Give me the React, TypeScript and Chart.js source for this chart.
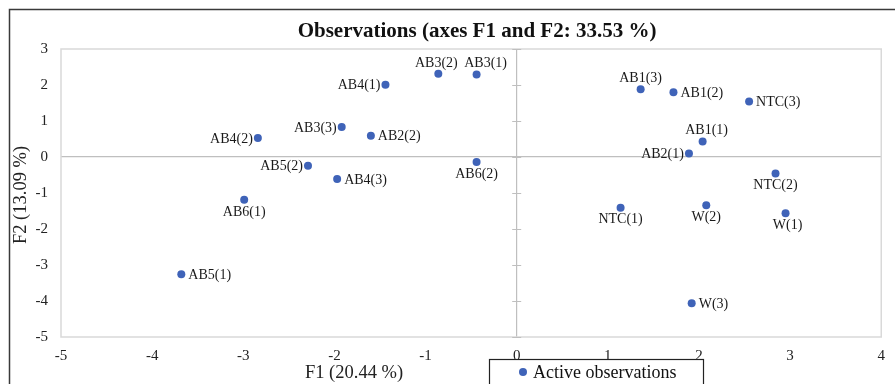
import React, { useEffect, useRef } from "react";
import { Chart, registerables } from "chart.js";

Chart.register(...registerables);

// ---- Data ----
const obsLabels = [
  "AB1(1)", "AB1(2)", "AB1(3)", "AB2(1)", "AB2(2)", "AB3(1)", "AB3(2)",
  "AB3(3)", "AB4(1)", "AB4(2)", "AB4(3)", "AB5(1)", "AB5(2)", "AB6(1)",
  "AB6(2)", "NTC(1)", "NTC(2)", "NTC(3)", "W(1)", "W(2)", "W(3)",
];
const f1Values = [
  2.04, 1.72, 1.36, 1.89, -1.6, -0.44, -0.86,
  -1.92, -1.44, -2.84, -1.97, -3.68, -2.29, -2.99,
  -0.44, 1.14, 2.84, 2.55, 2.95, 2.08, 1.92,
];
const f2Values = [
  0.43, 1.8, 1.88, 0.1, 0.59, 2.29, 2.31,
  0.83, 2.01, 0.53, -0.61, -3.26, -0.24, -1.19,
  -0.14, -1.41, -0.46, 1.54, -1.56, -1.34, -4.06,
];
const xTicks = [-5, -4, -3, -2, -1, 0, 1, 2, 3, 4];
const yTicks = [-5, -4, -3, -2, -1, 0, 1, 2, 3];

const chartTitle = "Observations (axes F1 and F2: 33.53 %)";
const xTitle = "F1 (20.44 %)";
const yTitle = "F2 (13.09 %)";
const seriesName = "Active observations";

// label placement (style only): [direction, extra horizontal shift]
const labelPlacement: Record<string, [string, number]> = {
  "AB1(1)": ["above", 4], "AB1(2)": ["right", 0], "AB1(3)": ["above", 0], "AB2(1)": ["left", 0],
  "AB2(2)": ["right", 0], "AB3(1)": ["above", 9], "AB3(2)": ["above", -2], "AB3(3)": ["left", 0],
  "AB4(1)": ["left", 0], "AB4(2)": ["left", 0], "AB4(3)": ["right", 0], "AB5(1)": ["right", 0],
  "AB5(2)": ["left", 0], "AB6(1)": ["below", 0], "AB6(2)": ["below", 0], "NTC(1)": ["below", 0],
  "NTC(2)": ["below", 0], "NTC(3)": ["right", 0], "W(1)": ["below", 2], "W(2)": ["below", 0],
  "W(3)": ["right", 0],
};

const SERIF = "'Liberation Serif', 'Times New Roman', serif";
const DOT = "#3f63b8";

const decorPlugin = {
  id: "decor",
  beforeDatasetsDraw(chart: any) {
    const { ctx, chartArea } = chart;
    const xs = chart.scales.x;
    const ys = chart.scales.y;
    ctx.save();
    // plot border
    ctx.strokeStyle = "#d9d9d9";
    ctx.lineWidth = 1.5;
    ctx.strokeRect(chartArea.left, chartArea.top, chartArea.right - chartArea.left, chartArea.bottom - chartArea.top);
    // tick marks on vertical zero axis
    const x0 = xs.getPixelForValue(0);
    ctx.strokeStyle = "#bfbfbf";
    ctx.lineWidth = 1;
    yTicks.forEach((v) => {
      const py = Math.round(ys.getPixelForValue(v)) + 0.5;
      ctx.beginPath();
      ctx.moveTo(x0 - 4.5, py);
      ctx.lineTo(x0 + 4.5, py);
      ctx.stroke();
    });
    ctx.restore();
  },
  afterDatasetsDraw(chart: any) {
    const { ctx } = chart;
    const xs = chart.scales.x;
    const ys = chart.scales.y;
    ctx.save();
    ctx.font = `14px ${SERIF}`;
    ctx.fillStyle = "#1a1a1a";
    obsLabels.forEach((lab, i) => {
      const px = xs.getPixelForValue(f1Values[i]);
      const py = ys.getPixelForValue(f2Values[i]);
      const [pos, dx] = labelPlacement[lab];
      ctx.textBaseline = "middle";
      if (pos === "right") {
        ctx.textAlign = "left";
        ctx.fillText(lab, px + 7 + dx, py + 1);
      } else if (pos === "left") {
        ctx.textAlign = "right";
        ctx.fillText(lab, px - 5 + dx, py + 1);
      } else if (pos === "above") {
        ctx.textAlign = "center";
        ctx.fillText(lab, px + dx, py - 11);
      } else {
        ctx.textAlign = "center";
        ctx.fillText(lab, px + dx, py + 12);
      }
    });
    ctx.restore();
  },
  afterDraw(chart: any) {
    const { ctx, width, height } = chart;
    ctx.save();
    // outer frame
    ctx.strokeStyle = "#3a3a3a";
    ctx.lineWidth = 1.5;
    ctx.beginPath();
    ctx.moveTo(9.5, height + 2);
    ctx.lineTo(9.5, 9.5);
    ctx.lineTo(width + 2, 9.5);
    ctx.stroke();
    // title
    ctx.fillStyle = "#111";
    ctx.font = `bold 21px ${SERIF}`;
    ctx.textAlign = "center";
    ctx.textBaseline = "middle";
    ctx.fillText(chartTitle, 477, 32);
    // axis titles
    ctx.font = `18.5px ${SERIF}`;
    ctx.fillStyle = "#222";
    ctx.fillText(xTitle, 354, 373);
    ctx.save();
    ctx.translate(21, 195);
    ctx.rotate(-Math.PI / 2);
    ctx.fillText(yTitle, 0, 0);
    ctx.restore();
    // legend
    ctx.strokeStyle = "#222";
    ctx.lineWidth = 1.2;
    ctx.strokeRect(489.5, 359.5, 214, 40);
    ctx.fillStyle = DOT;
    ctx.beginPath();
    ctx.arc(523, 372, 4, 0, Math.PI * 2);
    ctx.fill();
    ctx.fillStyle = "#111";
    ctx.font = `18px ${SERIF}`;
    ctx.textAlign = "left";
    ctx.fillText(seriesName, 533, 373);
    ctx.restore();
  },
};

export default function App() {
  const ref = useRef<HTMLCanvasElement | null>(null);
  useEffect(() => {
    document.body.style.margin = "0";
    if (!ref.current) return;
    const chart = new Chart(ref.current, {
      type: "scatter",
      data: {
        datasets: [
          {
            label: seriesName,
            data: f1Values.map((x, i) => ({ x, y: f2Values[i] })),
            backgroundColor: DOT,
            borderColor: DOT,
            pointRadius: 4,
            pointHoverRadius: 4,
            pointBorderWidth: 0,
          },
        ],
      },
      options: {
        responsive: false,
        animation: false,
        devicePixelRatio: 1,
        layout: { padding: { left: 0, top: 49, right: 12, bottom: 0 } },
        plugins: {
          legend: { display: false },
          title: { display: false },
          tooltip: { enabled: false },
        },
        scales: {
          x: {
            type: "linear",
            min: -5,
            max: 4,
            afterFit: (s: any) => { s.height = 47; },
            afterBuildTicks: (s: any) => { s.ticks = xTicks.map((v) => ({ value: v })); },
            ticks: {
              font: { family: SERIF, size: 15 },
              color: "#222",
              padding: 10,
              maxRotation: 0,
            },
            grid: {
              drawTicks: false,
              lineWidth: 1.2,
              color: (c: any) => (c.tick && c.tick.value === 0 ? "#bfbfbf" : "rgba(0,0,0,0)"),
            },
            border: { display: false },
          },
          y: {
            type: "linear",
            min: -5,
            max: 3,
            afterFit: (s: any) => { s.width = 61; },
            afterBuildTicks: (s: any) => { s.ticks = yTicks.map((v) => ({ value: v })); },
            ticks: {
              font: { family: SERIF, size: 15 },
              color: "#222",
              padding: 13,
            },
            grid: {
              drawTicks: false,
              lineWidth: 1.2,
              color: (c: any) => (c.tick && c.tick.value === 0 ? "#bfbfbf" : "rgba(0,0,0,0)"),
            },
            border: { display: false },
          },
        },
      },
      plugins: [decorPlugin],
    });
    return () => chart.destroy();
  }, []);
  return (
    <canvas
      ref={ref}
      width={895}
      height={384}
      style={{ display: "block", width: 895, height: 384 }}
    />
  );
}
